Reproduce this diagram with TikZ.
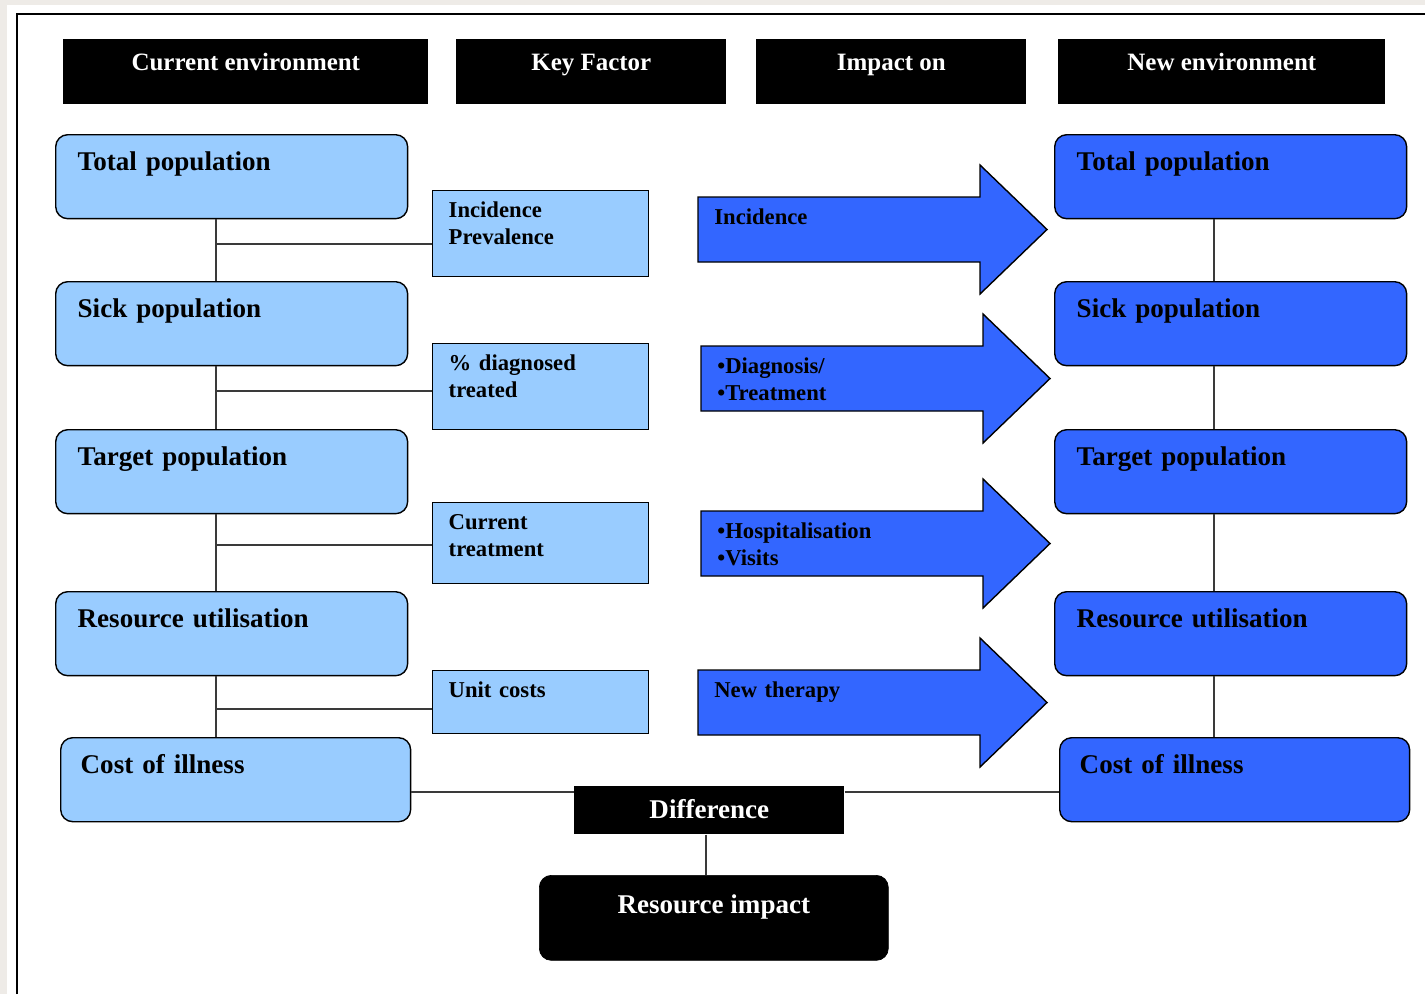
\documentclass[tikz,border=0pt]{standalone}
\usepackage{fontspec}
\setmainfont{Liberation Serif}
\usetikzlibrary{positioning}

\definecolor{lightblue}{HTML}{99CCFF}
\definecolor{newblue}{HTML}{3366FF}
\definecolor{pagegray}{HTML}{EEEBE7}
\definecolor{linegray}{HTML}{3A3A3A}

\tikzset{
  popbox/.style={draw=black, line width=0.8pt, rounded corners=0.24cm, anchor=north west,
    inner xsep=0.44cm, inner ysep=0pt, text width=6.16cm, align=left,
    text height=0.72cm, text depth=0.96cm, font=\fontsize{15.4}{18}\selectfont\bfseries},
  curbox/.style={popbox, fill=lightblue},
  newbox/.style={popbox, fill=newblue},
  costbox/.style={inner xsep=0.4cm, text width=6.2cm},
  keybox/.style={draw=black, line width=0.8pt, fill=lightblue, anchor=north west,
    inner xsep=0.32cm, inner ysep=0pt, text width=3.68cm, align=left,
    text height=0.54cm, font=\fontsize{12.9}{15.5}\selectfont\bfseries},
  headbox/.style={fill=black, text=white, anchor=north west, inner sep=0pt,
    text height=0.62cm, text depth=0.68cm, font=\fontsize{14.2}{16}\selectfont\bfseries},
  diffbox/.style={fill=black, text=white, anchor=north west, inner sep=0pt,
    text height=0.64cm, text depth=0.32cm, font=\fontsize{15.4}{18}\selectfont\bfseries},
  impact/.style={draw=black, line width=0.8pt, fill=newblue},
  impacttxt/.style={anchor=north west, inner sep=0pt, text width=5cm, align=left,
    text height=0.54cm, font=\fontsize{12.9}{15.6}\selectfont\bfseries},
  link/.style={draw=linegray, line width=0.8pt},
}

\begin{document}
\begin{tikzpicture}[x=0.02cm, y=-0.02cm]
  % fondo y marco
  \useasboundingbox (0,0) rectangle (1425,994);
  \fill[pagegray] (0,0) rectangle (1425,994);
  \fill[white] (7,5) rectangle (1425,994);
  \draw[line width=1.1pt] (17,994) -- (17,14) -- (1425,14);

  % cabeceras
  \node[headbox, minimum width=7.3cm] (hcur) at (63,39) {Current environment};
  \node[headbox, minimum width=5.4cm] (hkey) at (456,39) {Key Factor};
  \node[headbox, minimum width=5.4cm] (himp) at (756,39) {Impact on};
  \node[headbox, minimum width=6.54cm] (hnew) at (1058,39) {New environment};

  % entorno actual
  \node[curbox] (ctot) at (55,134) {Total population};
  \node[curbox] (csick) at (55,281) {Sick population};
  \node[curbox] (ctarg) at (55,429) {Target population};
  \node[curbox] (cres) at (55,591) {Resource utilisation};
  \node[curbox, costbox] (ccost) at (60,737) {Cost of illness};

  % nuevo entorno
  \node[newbox] (ntot) at (1054,134) {Total population};
  \node[newbox] (nsick) at (1054,281) {Sick population};
  \node[newbox] (ntarg) at (1054,429) {Target population};
  \node[newbox] (nres) at (1054,591) {Resource utilisation};
  \node[newbox, costbox] (ncost) at (1059,737) {Cost of illness};

  % factores clave
  \node[keybox, text depth=1.18cm] (kinc) at (432,190) {Incidence\\Prevalence};
  \node[keybox, text depth=1.18cm] (kdiag) at (432,343) {\% diagnosed\\treated};
  \node[keybox, text depth=1.08cm] (ktreat) at (432,502) {Current\\treatment};
  \node[keybox, text depth=0.72cm] (kcost) at (432,670) {Unit costs};

  % flechas de impacto
  \foreach \x/\y/\n/\t in {698/197/ainc/Incidence, 701/346/adiag/{\textbullet Diagnosis/\\\textbullet Treatment},
                           701/511/ahosp/{\textbullet Hospitalisation\\\textbullet Visits}, 698/670/ather/New therapy} {
    \draw[impact] (\x,\y) -- ++(282,0) -- ++(0,-32) -- ++(67,64.5) -- ++(-67,64.5)
      -- ++(0,-32) -- ++(-282,0) -- cycle;
    \node[impacttxt] (\n) at (\x+16,\y) {\t};
  }

  % lineas de la izquierda
  \draw[link] (ctot.south -| 216,0) -- (csick.north -| 216,0);
  \draw[link] (csick.south -| 216,0) -- (ctarg.north -| 216,0);
  \draw[link] (ctarg.south -| 216,0) -- (cres.north -| 216,0);
  \draw[link] (cres.south -| 216,0) -- (ccost.north -| 216,0);
  \coordinate (j1) at (216,244);
  \coordinate (j2) at (216,391);
  \coordinate (j3) at (216,545);
  \coordinate (j4) at (216,709);
  \draw[link] (j1) -- (j1 -| kinc.west);
  \draw[link] (j2) -- (j2 -| kdiag.west);
  \draw[link] (j3) -- (j3 -| ktreat.west);
  \draw[link] (j4) -- (j4 -| kcost.west);

  % lineas de la derecha
  \draw[link] (ntot.south -| 1214,0) -- (nsick.north -| 1214,0);
  \draw[link] (nsick.south -| 1214,0) -- (ntarg.north -| 1214,0);
  \draw[link] (ntarg.south -| 1214,0) -- (nres.north -| 1214,0);
  \draw[link] (nres.south -| 1214,0) -- (ncost.north -| 1214,0);

  % diferencia e impacto
  \node[diffbox, minimum width=5.4cm] (diff) at (574,786) {Difference};
  \node[diffbox, draw=black, rounded corners=0.24cm, minimum width=6.98cm,
        text height=0.76cm, text depth=0.94cm] (rimp) at (539,875) {Resource impact};
  \draw[link] (ccost.east |- 0,792) -- (diff.west |- 0,792);
  \draw[link] (diff.east |- 0,792) -- (ncost.west |- 0,792);
  \draw[link] (diff.south -| 706,0) -- (rimp.north -| 706,0);
\end{tikzpicture}
\end{document}
